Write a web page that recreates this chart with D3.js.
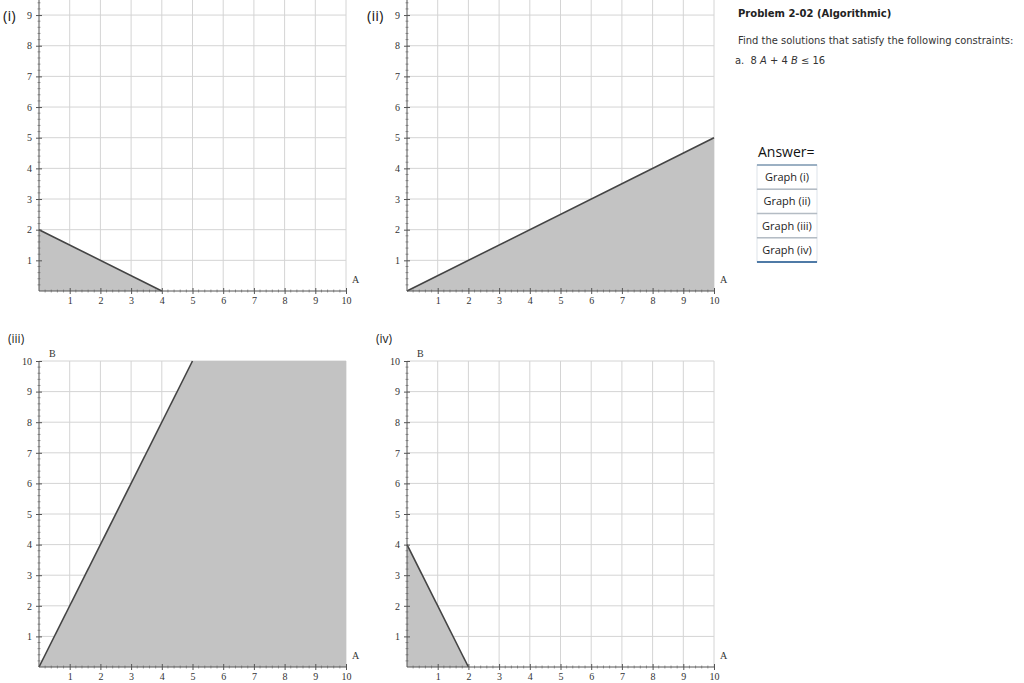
<!DOCTYPE html>
<html>
<head>
<meta charset="utf-8">
<script src="https://cdn.jsdelivr.net/npm/d3@7"></script>
<style>
  body { margin: 0; background: #fff; }
  .tick text { font-family: "Liberation Serif", serif; font-size: 10px; fill: #333; }
</style>
</head>
<body>
<svg id="chart" width="1024" height="683"></svg>
<script>
// ---- data ----
var graphNames = ["(i)", "(ii)", "(iii)", "(iv)"];
var regionI   = [[0, 0], [0, 2], [4, 0]];
var lineI     = [[0, 2], [4, 0]];
var regionII  = [[0, 0], [10, 5], [10, 0]];
var lineII    = [[0, 0], [10, 5]];
var regionIII = [[0, 0], [5, 10], [10, 10], [10, 0]];
var lineIII   = [[0, 0], [5, 10]];
var regionIV  = [[0, 0], [0, 4], [2, 0]];
var lineIV    = [[0, 4], [2, 0]];
var majorTicks = [1, 2, 3, 4, 5, 6, 7, 8, 9, 10];
var minorTicks = d3.range(0, 50).map(i => i / 5).filter(v => v % 1 !== 0);
var answerOptions = ["Graph (i)", "Graph (ii)", "Graph (iii)", "Graph (iv)"];

// ---- layout ----
// top row is cropped by the page edge, so the B=10 row sits above y=0
var panels = [
  {name: graphNames[0], region: regionI,   line: lineI,   x0: 39,  x1: 346, y0: 291, y1: -15.6, lx: 3,   ly: 21, cropped: true},
  {name: graphNames[1], region: regionII,  line: lineII,  x0: 407, x1: 714, y0: 291, y1: -15.6, lx: 367, ly: 21, cropped: true},
  {name: graphNames[2], region: regionIII, line: lineIII, x0: 39,  x1: 346, y0: 667, y1: 361,   lx: 8,   ly: 343, cropped: false},
  {name: graphNames[3], region: regionIV,  line: lineIV,  x0: 407, x1: 714, y0: 667, y1: 361,   lx: 376, ly: 343, cropped: false}
];

var svg = d3.select("#chart");

panels.forEach(function(p) {
  var x = d3.scaleLinear().domain([0, 10]).range([p.x0, p.x1]);
  var y = d3.scaleLinear().domain([0, 10]).range([p.y0, p.y1]);
  var yTicks = p.cropped ? majorTicks.filter(d => y(d) > 0) : majorTicks;
  var g = svg.append("g");

  // grid
  g.selectAll(".vgrid").data(majorTicks).enter().append("line")
    .attr("x1", d => x(d)).attr("x2", d => x(d))
    .attr("y1", y(0)).attr("y2", Math.max(y(10), 0))
    .attr("stroke", "#d4d4d4").attr("stroke-width", 1);
  g.selectAll(".hgrid").data(yTicks).enter().append("line")
    .attr("x1", x(0)).attr("x2", x(10))
    .attr("y1", d => y(d)).attr("y2", d => y(d))
    .attr("stroke", "#d4d4d4").attr("stroke-width", 1);

  // feasible region
  var line = d3.line().x(d => x(d[0])).y(d => y(d[1]));
  g.append("path")
    .attr("d", line(p.region) + "Z")
    .attr("fill", "#c3c3c3");
  g.append("path")
    .attr("d", line(p.line))
    .attr("fill", "none")
    .attr("stroke", "#444")
    .attr("stroke-width", 1.6);

  // minor ticks
  var yMinorVals = minorTicks.filter(d => y(d) > 0);
  g.selectAll(".xminor").data(minorTicks).enter().append("line")
    .attr("x1", d => x(d)).attr("x2", d => x(d))
    .attr("y1", y(0) - 1.5).attr("y2", y(0) + 1.5)
    .attr("stroke", "#777").attr("stroke-width", 0.7);
  g.selectAll(".yminor").data(yMinorVals).enter().append("line")
    .attr("x1", x(0) - 1.5).attr("x2", x(0) + 1.5)
    .attr("y1", d => y(d)).attr("y2", d => y(d))
    .attr("stroke", "#777").attr("stroke-width", 0.7);

  // major axes
  var xAxis = d3.axisBottom(x).tickValues(majorTicks).tickSize(4).tickPadding(2);
  var gx = g.append("g").attr("transform", `translate(0,${y(0)})`).call(xAxis);
  gx.select(".domain").attr("stroke", "#555").attr("d", `M${x(0)},0H${x(10)}`);
  gx.selectAll(".tick line").attr("y1", -3).attr("y2", 3).attr("stroke", "#555");

  var yAxis = d3.axisLeft(y).tickValues(yTicks).tickSize(4).tickPadding(3);
  var gy = g.append("g").attr("transform", `translate(${x(0)},0)`).call(yAxis);
  gy.select(".domain").attr("stroke", "#555").attr("d", `M0,${y(0)}V${Math.max(y(10), 0)}`);
  gy.selectAll(".tick line").attr("x1", -3).attr("x2", 3).attr("stroke", "#555");

  // axis names
  g.append("text").text("A")
    .attr("x", x(10) + 6).attr("y", y(0) - 8)
    .attr("font-family", "Liberation Serif, serif").attr("font-size", 10).attr("fill", "#333");
  if (!p.cropped) {
    g.append("text").text("B")
      .attr("x", x(0) + 10).attr("y", y(10) - 4)
      .attr("font-family", "Liberation Serif, serif").attr("font-size", 10).attr("fill", "#333");
  }

  // panel label
  g.append("text").text(p.name)
    .attr("x", p.lx).attr("y", p.ly)
    .attr("font-family", "Open Sans, sans-serif").attr("font-size", p.cropped ? 15 : 12).attr("fill", "#222");
});

// ---- problem text ----
svg.append("text").text("Problem 2-02 (Algorithmic)")
  .attr("x", 738).attr("y", 17)
  .attr("font-family", "DejaVu Sans, sans-serif").attr("font-weight", "bold")
  .attr("font-size", 10).attr("fill", "#222");
svg.append("text").text("Find the solutions that satisfy the following constraints:")
  .attr("x", 738).attr("y", 44)
  .attr("font-family", "DejaVu Sans, sans-serif").attr("font-size", 9.95).attr("fill", "#333");
var eq = svg.append("text")
  .attr("x", 735).attr("y", 64)
  .style("white-space", "pre")
  .attr("font-family", "DejaVu Sans, sans-serif").attr("font-size", 9.95).attr("fill", "#333");
eq.append("tspan").text("a.  8 ");
eq.append("tspan").text("A").attr("font-style", "italic");
eq.append("tspan").text(" + 4 ");
eq.append("tspan").text("B").attr("font-style", "italic");
eq.append("tspan").text(" \u2264 16");

// ---- answer options ----
svg.append("text").text("Answer=")
  .attr("x", 758).attr("y", 157)
  .attr("font-family", "Open Sans, sans-serif").attr("font-size", 14).attr("fill", "#111");

var rowY = d3.scaleBand().domain(answerOptions).range([165, 262]);
var opts = svg.append("g");
opts.selectAll("rect").data(answerOptions).enter().append("rect")
  .attr("x", 757).attr("y", d => rowY(d))
  .attr("width", 60).attr("height", rowY.bandwidth())
  .attr("fill", "#fff").attr("stroke", "#dde3ea").attr("stroke-width", 1);
opts.selectAll(".sep").data(answerOptions.slice(1)).enter().append("line")
  .attr("x1", 757).attr("x2", 817)
  .attr("y1", d => rowY(d)).attr("y2", d => rowY(d))
  .attr("stroke", "#b4bcc4").attr("stroke-width", 1.5);
opts.append("line").attr("x1", 757).attr("x2", 817).attr("y1", 165).attr("y2", 165)
  .attr("stroke", "#7f9ab3").attr("stroke-width", 1.5);
opts.append("line").attr("x1", 757).attr("x2", 817).attr("y1", 262).attr("y2", 262)
  .attr("stroke", "#4f7aa6").attr("stroke-width", 2);
opts.selectAll(".lbl").data(answerOptions).enter().append("text")
  .text(d => d)
  .attr("x", 787).attr("y", d => rowY(d) + rowY.bandwidth() / 2 + 4)
  .attr("text-anchor", "middle")
  .attr("font-family", "Open Sans, sans-serif").attr("font-size", 11).attr("fill", "#222");
</script>
</body>
</html>
